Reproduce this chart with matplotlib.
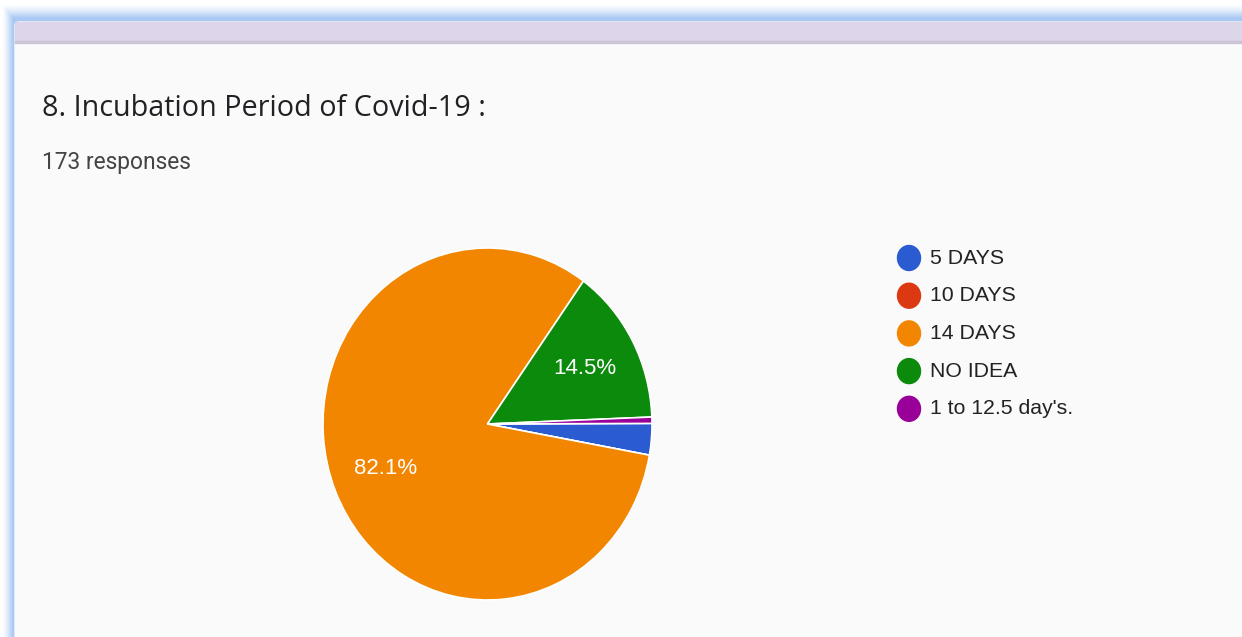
import matplotlib
matplotlib.use("Agg")
import matplotlib.pyplot as plt
import numpy as np

# survey results: 173 responses
labels = ["5 DAYS", "10 DAYS", "14 DAYS", "NO IDEA", "1 to 12.5 day's."]
counts = [5, 0, 142, 25, 1]
colors = ["#2a5bd0", "#dc3912", "#f38600", "#0b8a0b", "#990099"]
title = "8. Incubation Period of Covid-19 :"
subtitle = "173 responses"

W, H = 1242, 637
fig = plt.figure(figsize=(W / 100, H / 100), dpi=100)
fig.patch.set_facecolor("white")

# page layer in pixel coordinates (card, glow, header band)
bg = fig.add_axes([0, 0, 1, 1])
bg.set_xlim(0, W)
bg.set_ylim(H, 0)
bg.axis("off")

# soft blue glow along the left and top edges of the card
xs = np.arange(W) + 0.5
ys = np.arange(H) + 0.5
tx = np.clip((xs - 2) / 11, 0, 1) ** 1.4
ty = np.clip((ys - 4) / 14, 0, 1) ** 1.4
t = np.minimum(tx[None, :], ty[:, None])
glow = np.array(matplotlib.colors.to_rgb("#a9c9f4"))
img = 1 - t[..., None] * (1 - glow)
bg.imshow(img, extent=(0, W, H, 0), aspect="auto", interpolation="nearest", zorder=1)
bg.add_patch(matplotlib.patches.FancyBboxPatch((15, 22), W, H, boxstyle="round,pad=0,rounding_size=4",
                                               color="#fafafa", zorder=2))
bg.add_patch(plt.Rectangle((15, 22), W, 19, color="#ddd6ea", zorder=3))
bg.add_patch(plt.Rectangle((15, 41), W, 2, color="#cbc4d6", zorder=3))

bg.text(42, 108, title, fontsize=20.7, family="Open Sans", color="#202124",
        va="center", ha="left", zorder=5)
bg.text(42, 163, subtitle, fontsize=16.4, family="Roboto", color="#444444",
        va="center", ha="left", zorder=5)

# legend
for i, (lab, col) in enumerate(zip(labels, colors)):
    y = 258 + i * 37.7
    bg.add_patch(matplotlib.patches.Ellipse((909, y), 23, 25, color=col, zorder=5))
    bg.text(930, y, lab, fontsize=15.3, family="Liberation Sans", color="#222222",
            va="center", ha="left", zorder=5)

# pie, stretched slightly taller than wide
cx, cy, rx, ry = 487.5, 424, 164.5, 176
ax = fig.add_axes([(cx - rx) / W, (H - cy - ry) / H, 2 * rx / W, 2 * ry / H])
ax.pie(counts, colors=colors, startangle=0.2, counterclock=False,
       autopct=lambda p: f"{p:.1f}%" if p > 5 else "", pctdistance=0.67,
       wedgeprops=dict(edgecolor="white", linewidth=1.2),
       textprops=dict(color="white", fontsize=16, family="Liberation Sans"))
ax.set_aspect("auto")
ax.set_xlim(-1, 1)
ax.set_ylim(-1, 1)
ax.axis("off")

fig.savefig("out.png", dpi=100)
